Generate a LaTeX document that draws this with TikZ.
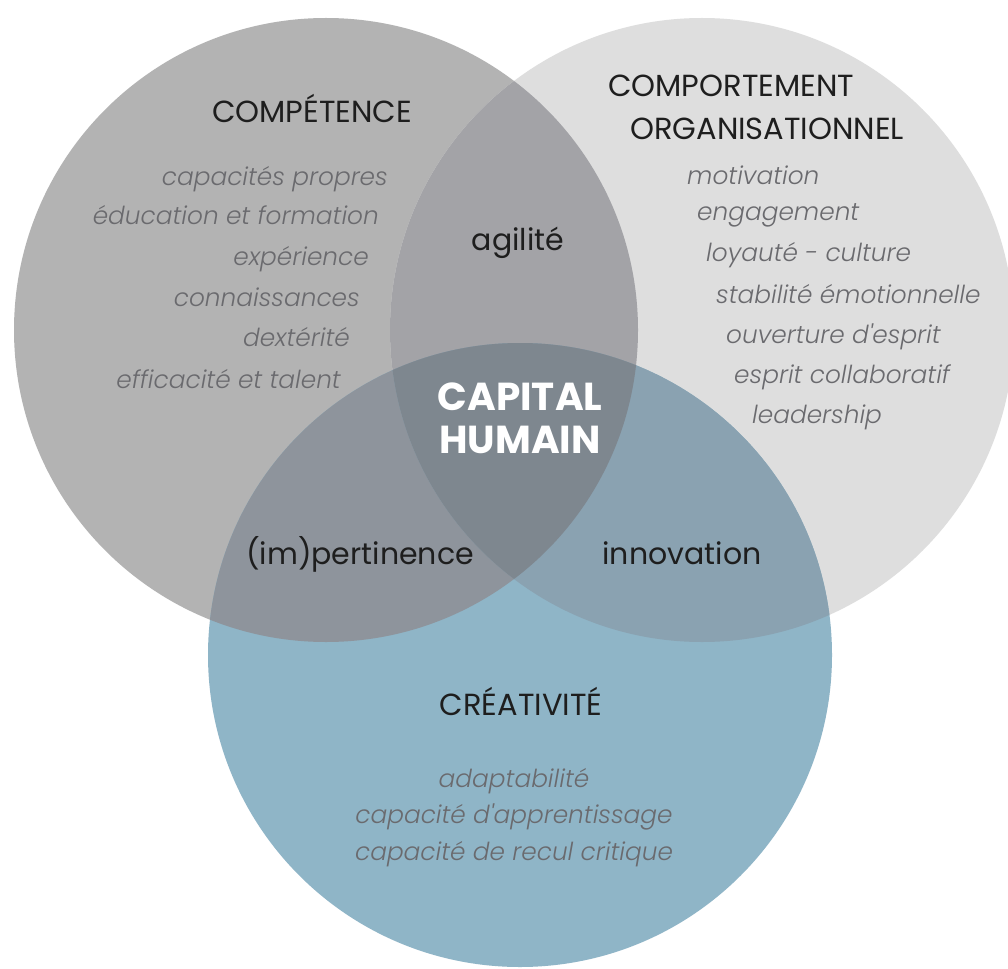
\documentclass[tikz,border=0pt]{standalone}
\usepackage{fontspec}
\setmainfont{Poppins}
\newfontfamily\itemfont{Poppins}[UprightFont=* Light, ItalicFont=* Light Italic]
\usetikzlibrary{positioning}

\definecolor{compgray}{HTML}{B3B3B3}
\definecolor{orggray}{HTML}{DEDEDE}
\definecolor{creablue}{HTML}{8FB5C7}
\definecolor{agigray}{HTML}{A3A3A7}
\definecolor{impgray}{HTML}{8E949C}
\definecolor{innoblue}{HTML}{8AA2B1}
\definecolor{capgray}{HTML}{7E878F}
\definecolor{itemgray}{HTML}{6A6A6E}
\definecolor{headdark}{HTML}{1E1E1E}

\begin{document}
\begin{tikzpicture}[x=1pt, y=-1pt,
  heading/.style={text=headdark, font=\fontsize{30.5}{34}\selectfont, inner sep=0pt},
  item/.style={text=itemgray, font=\itemfont\fontsize{24.8}{28}\selectfont\itshape, inner sep=0pt},
  overlap/.style={text=headdark, font=\fontsize{30}{34}\selectfont, inner sep=0pt},
  core/.style={text=white, font=\fontsize{39}{44}\selectfont\bfseries, inner sep=0pt}]
  \useasboundingbox (0,0) rectangle (1008,968);
  \fill[white] (0,0) rectangle (1008,968);

  \coordinate (cL) at (326,330);
  \coordinate (cR) at (702,330);
  \coordinate (cB) at (520,655);

  % the three circles
  \fill[compgray] (cL) circle (312pt);
  \fill[orggray] (cR) circle (312pt);
  \fill[creablue] (cB) circle (312pt);
  % overlaps
  \begin{scope}
    \clip (cL) circle (312pt);
    \fill[agigray] (cR) circle (312pt);
    \fill[impgray] (cB) circle (312pt);
  \end{scope}
  \begin{scope}
    \clip (cR) circle (312pt);
    \fill[innoblue] (cB) circle (312pt);
    \clip (cL) circle (312pt);
    \fill[capgray] (cB) circle (312pt);
  \end{scope}

  % competence
  \node[heading, anchor=base] (comp) at (312,123) {COMPÉTENCE};
  \node[item, anchor=base east] (c1) at (388,186) {capacités propres};
  \node[item, anchor=base east] (c2) at (379,225) {éducation et formation};
  \node[item, anchor=base east] (c3) at (369,265) {expérience};
  \node[item, anchor=base east] (c4) at (360,306) {connaissances};
  \node[item, anchor=base east] (c5) at (350,346) {dextérité};
  \node[item, anchor=base east] (c6) at (341,388) {efficacité et talent};

  % comportement organisationnel
  \node[heading, anchor=base west] (org1) at (608,97) {COMPORTEMENT};
  \node[heading, anchor=base west] (org2) at (630,140) {ORGANISATIONNEL};
  \node[item, anchor=base west] (o1) at (687,185) {motivation};
  \node[item, anchor=base west] (o2) at (697,221) {engagement};
  \node[item, anchor=base west] (o3) at (706,261) {loyauté - culture};
  \node[item, anchor=base west] (o4) at (716,303) {stabilité émotionnelle};
  \node[item, anchor=base west] (o5) at (726,343) {ouverture d'esprit};
  \node[item, anchor=base west] (o6) at (734,383) {esprit collaboratif};
  \node[item, anchor=base west] (o7) at (752,423) {leadership};

  % creativite
  \node[heading, anchor=base] (crea) at (521,715) {CRÉATIVITÉ};
  \node[item, anchor=base] (b1) at (514,787) {adaptabilité};
  \node[item, anchor=base] (b2) at (514,823) {capacité d'apprentissage};
  \node[item, anchor=base] (b3) at (514,860) {capacité de recul critique};

  % overlaps and centre
  \node[overlap, anchor=base] (agil) at (518,250) {agilité};
  \node[overlap, anchor=base] (impert) at (360,564) {(im)pertinence};
  \node[overlap, anchor=base] (innov) at (682,564) {innovation};
  \node[core, anchor=base] (cap1) at (520,410) {CAPITAL};
  \node[core, anchor=base] (cap2) at (520,453) {HUMAIN};
\end{tikzpicture}
\end{document}
